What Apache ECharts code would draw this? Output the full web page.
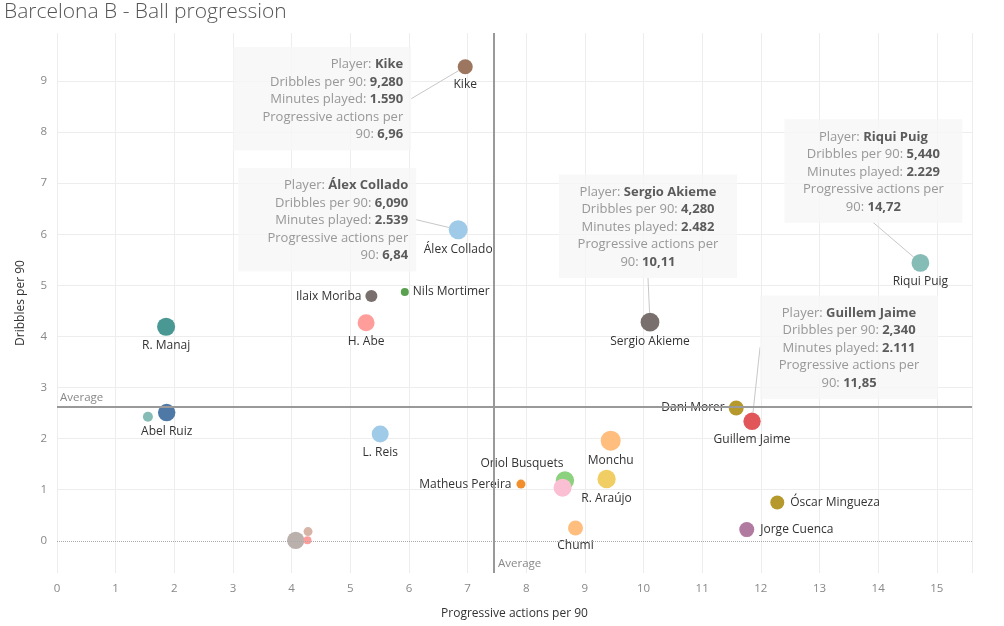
<!DOCTYPE html>
<html><head><meta charset="utf-8">
<script src="https://cdn.jsdelivr.net/npm/echarts@6/dist/echarts.min.js"></script>
<style>html,body{margin:0;padding:0;background:#fff}#chart{width:1004px;height:626px}</style>
</head><body><div id="chart"></div>
<script>
// ---------- DATA ----------
const players = ['Kike','Álex Collado','Ilaix Moriba','Nils Mortimer','H. Abe','R. Manaj','Abel Ruiz','',
  'L. Reis','Sergio Akieme','Riqui Puig','Guillem Jaime','Dani Morer','Monchu','R. Araújo','Oriol Busquets','',
  'Matheus Pereira','Chumi','Óscar Mingueza','Jorge Cuenca','','',''];
const progressiveActions = [6.96, 6.84, 5.36, 5.93, 5.27, 1.86, 1.87, 1.55,
  5.51, 10.11, 14.72, 11.85, 11.58, 9.44, 9.37, 8.66, 8.62,
  7.91, 8.84, 12.28, 11.76, 4.07, 4.28, 4.27];
const dribbles = [9.28, 6.09, 4.79, 4.87, 4.27, 4.19, 2.51, 2.43,
  2.09, 4.28, 5.44, 2.34, 2.60, 1.96, 1.21, 1.18, 1.04,
  1.11, 0.25, 0.75, 0.22, 0.01, 0.18, 0.01];
const minutesPlayed = [1590, 2539, 1013, 450, 2033, 2300, 2150, 704,
  2033, 2482, 2229, 2111, 1583, 2814, 2360, 2360, 2280,
  570, 1583, 1380, 1583, 2100, 570, 450];
const xTicks = [0,1,2,3,4,5,6,7,8,9,10,11,12,13,14,15];
const yTicks = [0,1,2,3,4,5,6,7,8,9];
const annotated = ['Kike','Álex Collado','Sergio Akieme','Riqui Puig','Guillem Jaime'];

// ---------- STYLE ----------
const FONT = 'Open Sans';
const pointColors = ['#9d7660','#a0cbe8','#79706e','#59a14f','#ff9d9a','#499894','#4e79a7','#86bcb6',
  '#a0cbe8','#79706e','#86bcb6','#e15759','#b6992d','#ffbe7d','#f1ce63','#8cd17d','#fabfd2',
  '#f28e2b','#ffbe7d','#b6992d','#b07aa1','#bab0ac','#d7b5a6','#ff9d9a'];
const SIZE_K = 0.377;
const labelPlacement = {
  'Ilaix Moriba': {position:'left', distance:4},
  'Nils Mortimer': {position:'right', distance:4},
  'Dani Morer': {position:'left', distance:4},
  'Matheus Pereira': {position:'left', distance:5},
  'Óscar Mingueza': {position:'right', distance:6},
  'Jorge Cuenca': {position:'right', distance:6},
  'Oriol Busquets': {position:'top', distance:2, offset:[-43,0]}
};
const annotationPlacement = {
  'Kike': {align:'right', dx:-54, dy:32},
  'Álex Collado': {align:'right', dx:-42, dy:-10},
  'Sergio Akieme': {align:'center', dx:-2, dy:-96},
  'Riqui Puig': {align:'center', dx:-47, dy:-92},
  'Guillem Jaime': {align:'center', dx:97, dy:-74}
};

const fmtDec = (v, d) => v.toFixed(d).replace('.', ',');
const fmtThousands = v => String(v).replace(/\B(?=(\d{3})+(?!\d))/g, '.');
const sizeOf = v => SIZE_K * Math.sqrt(v[2]);

const mainData = players.map((n, i) => {
  const p = labelPlacement[n] || {position:'bottom', distance:4};
  return {
    name: n,
    value: [progressiveActions[i], dribbles[i], minutesPlayed[i]],
    itemStyle: {color: pointColors[i]},
    label: n ? {show:true, position:p.position, distance:p.distance, offset:p.offset || [0,0]} : {show:false}
  };
});

const annData = annotated.map(n => {
  const i = players.indexOf(n);
  const a = annotationPlacement[n];
  return {
    name: n,
    value: [progressiveActions[i], dribbles[i], minutesPlayed[i]],
    label: {align: a.align}
  };
});

const chart = echarts.init(document.getElementById('chart'));
chart.setOption({
  animation: false,
  backgroundColor: '#fff',
  textStyle: {fontFamily: FONT},
  title: {
    text: 'Barcelona B - Ball progression',
    left: 4, top: 2, padding: 0,
    textStyle: {fontFamily: FONT, fontSize: 21, fontWeight: 300, color: '#555'}
  },
  grid: {left: 57, right: 32, top: 33, bottom: 53},
  xAxis: {
    type: 'value', min: 0, max: 15.6, interval: 1,
    name: 'Progressive actions per 90', nameLocation: 'middle', nameGap: 35,
    nameTextStyle: {color: '#333', fontSize: 12, fontFamily: FONT},
    axisLine: {show: false}, axisTick: {show: false},
    axisLabel: {color: '#888', fontSize: 11.5, margin: 10,
      formatter: v => (xTicks.indexOf(v) >= 0 ? String(v) : '')},
    splitLine: {show: true, lineStyle: {color: '#ededed', width: 1}}
  },
  yAxis: {
    type: 'value', min: -0.63, max: 9.94,
    name: 'Dribbles per 90', nameLocation: 'middle', nameGap: 30,
    nameTextStyle: {color: '#333', fontSize: 12, fontFamily: FONT},
    axisLine: {show: false},
    axisTick: {show: false, customValues: yTicks.filter(v => v !== 0)},
    axisLabel: {color: '#888', fontSize: 11.5, margin: 10, customValues: yTicks},
    splitLine: {show: true, lineStyle: {color: '#ededed', width: 1}}
  },
  series: [
    {
      type: 'scatter',
      data: mainData,
      symbol: 'circle',
      symbolSize: sizeOf,
      itemStyle: {opacity: 1},
      label: {show: true, formatter: '{b}', color: '#333', fontSize: 12, fontFamily: FONT},
      emphasis: {disabled: true},
      markLine: {
        silent: true,
        symbol: 'none',
        animation: false,
        data: [
          {yAxis: 0, lineStyle: {type: 'dotted', color: '#aaa', width: 1}, label: {show: false}},
          {type: 'average', valueIndex: 1,
            lineStyle: {type: 'solid', color: '#999', width: 2},
            label: {show: true, position: 'insideStartTop', formatter: 'Average', color: '#888',
              fontSize: 11.5, fontFamily: FONT, distance: 3}},
          {type: 'average', valueIndex: 0,
            lineStyle: {type: 'solid', color: '#999', width: 2},
            label: {show: true, position: 'start', formatter: 'Average', color: '#888',
              fontSize: 11.5, fontFamily: FONT, distance: [0, -3], align: 'left', verticalAlign: 'bottom',
              padding: [0, 0, 0, 4]}}
        ]
      }
    },
    {
      type: 'scatter',
      data: annData,
      symbol: 'circle',
      symbolSize: sizeOf,
      silent: true,
      z: 3,
      itemStyle: {color: 'rgba(0,0,0,0)'},
      emphasis: {disabled: true},
      label: {
        show: true,
        position: 'inside',
        verticalAlign: 'middle',
        width: 162,
        overflow: 'none',
        padding: [9, 8, 7, 8],
        backgroundColor: '#f6f6f6',
        lineHeight: 17.5,
        formatter: p => {
          const v = p.value;
          return '{g|Player: }{b|' + p.name + '}\n' +
            '{g|Dribbles per 90: }{b|' + fmtDec(v[1], 3) + '}\n' +
            '{g|Minutes played: }{b|' + fmtThousands(v[2]) + '}\n' +
            '{g|Progressive actions per}\n' +
            '{g|90: }{b|' + fmtDec(v[0], 2) + '}';
        },
        rich: {
          g: {color: '#808080', fontSize: 13, fontFamily: FONT, lineHeight: 17.5},
          b: {color: '#333', fontSize: 13, fontFamily: FONT, fontWeight: 'bold', lineHeight: 17.5}
        }
      },
      labelLine: {show: true, lineStyle: {color: '#c8c8c8', width: 1}},
      labelLayout: params => {
        const a = annotationPlacement[annotated[params.dataIndex]];
        return {dx: a.dx, dy: a.dy};
      }
    }
  ]
});
</script>
</body></html>
